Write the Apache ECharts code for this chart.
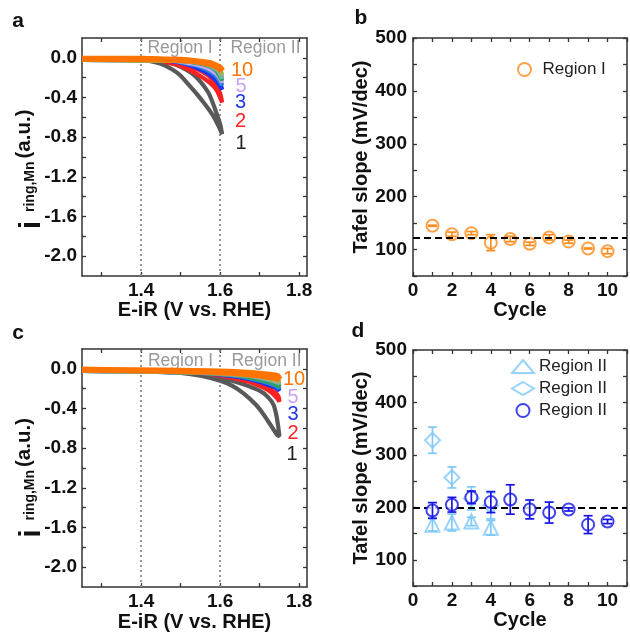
<!DOCTYPE html>
<html><head><meta charset="utf-8">
<script src="https://cdn.jsdelivr.net/npm/echarts@6/dist/echarts.min.js"></script>
<style>html,body{margin:0;padding:0;background:#fff}#c{width:630px;height:633px}</style>
</head><body><div id="c"></div>
<script>
const FONT = "'Liberation Sans', Arial, sans-serif";

// ---------- Panel a : ring current loops (E-iR, i) ----------
const aCycle1 = [[1.25,-0.01],[1.32,-0.01],[1.38,-0.02],[1.42,-0.03],[1.45,-0.06],[1.48,-0.12],[1.50,-0.18],[1.52,-0.27],[1.54,-0.36],[1.56,-0.46],[1.58,-0.57],[1.595,-0.68],[1.605,-0.77],[1.60,-0.67],[1.59,-0.55],[1.58,-0.44],[1.57,-0.35],[1.55,-0.24],[1.53,-0.16],[1.50,-0.09],[1.47,-0.05],[1.43,-0.03],[1.38,-0.02],[1.25,-0.01]];
const aCycle2 = [[1.25,-0.01],[1.40,-0.02],[1.45,-0.03],[1.48,-0.06],[1.51,-0.10],[1.54,-0.16],[1.57,-0.24],[1.59,-0.32],[1.605,-0.45],[1.60,-0.36],[1.59,-0.27],[1.57,-0.18],[1.54,-0.11],[1.50,-0.06],[1.45,-0.03],[1.25,-0.01]];
const aCycle3 = [[1.25,-0.01],[1.42,-0.02],[1.47,-0.03],[1.51,-0.06],[1.54,-0.10],[1.57,-0.16],[1.59,-0.23],[1.605,-0.32],[1.60,-0.26],[1.58,-0.16],[1.55,-0.09],[1.50,-0.04],[1.45,-0.02],[1.25,-0.01]];
const aCycle4 = [[1.25,-0.02],[1.44,-0.02],[1.48,-0.03],[1.52,-0.06],[1.55,-0.09],[1.58,-0.15],[1.595,-0.21],[1.605,-0.28],[1.60,-0.22],[1.58,-0.13],[1.55,-0.07],[1.50,-0.03],[1.25,-0.02]];
const aCycle5 = [[1.25,-0.02],[1.45,-0.02],[1.49,-0.03],[1.53,-0.06],[1.56,-0.09],[1.58,-0.13],[1.595,-0.18],[1.605,-0.25],[1.60,-0.19],[1.58,-0.11],[1.55,-0.06],[1.50,-0.03],[1.25,-0.02]];
const aCycle6 = [[1.25,-0.02],[1.45,-0.02],[1.50,-0.03],[1.54,-0.05],[1.57,-0.08],[1.59,-0.13],[1.605,-0.23],[1.60,-0.17],[1.58,-0.10],[1.55,-0.06],[1.50,-0.03],[1.25,-0.02]];
const aCycle7 = [[1.25,-0.02],[1.46,-0.02],[1.51,-0.03],[1.55,-0.05],[1.575,-0.08],[1.595,-0.13],[1.605,-0.21],[1.60,-0.15],[1.58,-0.09],[1.55,-0.05],[1.50,-0.03],[1.25,-0.02]];
const aCycle8 = [[1.25,-0.02],[1.47,-0.02],[1.52,-0.03],[1.56,-0.05],[1.58,-0.08],[1.595,-0.12],[1.605,-0.19],[1.60,-0.14],[1.58,-0.08],[1.55,-0.05],[1.50,-0.03],[1.25,-0.02]];
const aCycle9 = [[1.25,-0.02],[1.48,-0.02],[1.53,-0.03],[1.565,-0.05],[1.585,-0.08],[1.60,-0.12],[1.605,-0.17],[1.60,-0.13],[1.58,-0.07],[1.55,-0.04],[1.50,-0.03],[1.25,-0.02]];
const aCycle10 = [[1.25,-0.01],[1.40,-0.01],[1.48,-0.02],[1.53,-0.03],[1.56,-0.05],[1.58,-0.07],[1.595,-0.10],[1.605,-0.13],[1.60,-0.10],[1.58,-0.06],[1.55,-0.04],[1.50,-0.02],[1.25,-0.01]];

// ---------- Panel c ----------
const cCycle1 = [[1.25,-0.02],[1.35,-0.02],[1.45,-0.03],[1.50,-0.04],[1.55,-0.07],[1.60,-0.12],[1.63,-0.17],[1.66,-0.25],[1.69,-0.36],[1.71,-0.46],[1.73,-0.58],[1.745,-0.67],[1.75,-0.68],[1.747,-0.58],[1.742,-0.46],[1.735,-0.36],[1.72,-0.28],[1.70,-0.22],[1.67,-0.17],[1.63,-0.12],[1.59,-0.08],[1.54,-0.05],[1.48,-0.03],[1.35,-0.02],[1.25,-0.02]];
const cCycle2 = [[1.25,-0.02],[1.45,-0.02],[1.55,-0.04],[1.60,-0.07],[1.64,-0.10],[1.68,-0.14],[1.71,-0.19],[1.73,-0.24],[1.745,-0.30],[1.75,-0.33],[1.748,-0.28],[1.74,-0.24],[1.72,-0.19],[1.69,-0.15],[1.65,-0.10],[1.60,-0.06],[1.55,-0.04],[1.45,-0.02],[1.25,-0.02]];
const cCycle3 = [[1.25,-0.02],[1.50,-0.03],[1.58,-0.05],[1.64,-0.08],[1.69,-0.12],[1.72,-0.16],[1.74,-0.19],[1.75,-0.22],[1.745,-0.18],[1.72,-0.14],[1.68,-0.10],[1.62,-0.06],[1.55,-0.04],[1.25,-0.02]];
const cCycle4 = [[1.25,-0.02],[1.50,-0.03],[1.58,-0.05],[1.64,-0.07],[1.69,-0.11],[1.72,-0.14],[1.74,-0.17],[1.75,-0.20],[1.745,-0.16],[1.72,-0.12],[1.68,-0.09],[1.62,-0.06],[1.55,-0.04],[1.25,-0.02]];
const cCycle5 = [[1.25,-0.02],[1.50,-0.03],[1.60,-0.05],[1.66,-0.07],[1.70,-0.10],[1.73,-0.13],[1.75,-0.16],[1.745,-0.13],[1.71,-0.10],[1.66,-0.07],[1.58,-0.04],[1.25,-0.02]];
const cCycle6 = [[1.25,-0.02],[1.50,-0.03],[1.59,-0.05],[1.65,-0.07],[1.70,-0.11],[1.73,-0.14],[1.75,-0.18],[1.745,-0.14],[1.71,-0.10],[1.65,-0.06],[1.57,-0.04],[1.25,-0.02]];
const cCycle7 = [[1.25,-0.02],[1.52,-0.03],[1.61,-0.05],[1.67,-0.07],[1.71,-0.10],[1.74,-0.13],[1.75,-0.15],[1.745,-0.12],[1.71,-0.09],[1.65,-0.06],[1.57,-0.04],[1.25,-0.02]];
const cCycle8 = [[1.25,-0.02],[1.53,-0.03],[1.62,-0.05],[1.68,-0.07],[1.72,-0.10],[1.75,-0.14],[1.745,-0.11],[1.70,-0.08],[1.64,-0.05],[1.56,-0.03],[1.25,-0.02]];
const cCycle9 = [[1.25,-0.02],[1.54,-0.03],[1.63,-0.05],[1.69,-0.07],[1.73,-0.10],[1.75,-0.13],[1.745,-0.10],[1.70,-0.07],[1.64,-0.05],[1.56,-0.03],[1.25,-0.02]];
const cCycle10 = [[1.25,-0.01],[1.45,-0.02],[1.55,-0.03],[1.62,-0.04],[1.68,-0.06],[1.72,-0.08],[1.75,-0.10],[1.745,-0.07],[1.70,-0.05],[1.62,-0.03],[1.50,-0.02],[1.25,-0.01]];

const cycleColors = ['#595959','#ff2020','#1f36ee','#2a86dc','#c9a6f2','#2f9f5f','#5fbaa8','#a3a3a3','#9bb84c','#ff7400'];
const cycleLabels = ['1','2','3','4','5','6','7','8','9','10'];
const shownLabels = ['10','5','3','2','1'];

// axis ticks / labels for a, c
const eTicks = [1.3,1.4,1.5,1.6,1.7,1.8];
const eLabels = [1.4,1.6,1.8];
const iTicks = [-2.0,-1.8,-1.6,-1.4,-1.2,-1.0,-0.8,-0.6,-0.4,-0.2,0.0];
const iLabels = [-2.0,-1.6,-1.2,-0.8,-0.4,0.0];
const regionLines = [1.4, 1.6];

// ---------- Panel b ----------
const bCycle = [1,2,3,4,5,6,7,8,9,10];
const bSlope = [145,129,131,113,120,111,123,115,102,97];
const bErr   = [1,4,3,15,5,3,5,3,1,5];
const bMean = 123;

// ---------- Panel d ----------
const dCycle = [1,2,3,4,5,6,7,8,9,10];
const dCircle = [194,205,219,210,215,196,190,196,167,173];
const dCircleErr = [15,14,12,20,28,18,20,3,17,4];
const dTriCycle = [1,2,3,4];
const dTri = [167,171,173,161];
const dTriErr = [12,16,8,14];
const dDiaCycle = [1,2,3,4];
const dDia = [328,257,217,203];
const dDiaErr = [25,20,22,25];
const dMean = 200;

const ORANGE = '#ff8a1c';
const LIGHTBLUE = '#7fc8f8';
const DARKBLUE = '#1414e6';

const TXT = '#111';
const TICKFS = 19;
const lineStyleAx = {color:'#333', width:1.5};

function xAxisE(grid){
  return [
    {gridIndex:grid, type:'value', min:1.25, max:1.82, position:'bottom',
     axisLine:{show:true,onZero:false,lineStyle:lineStyleAx},
     axisTick:{show:true,inside:true,length:4,customValues:eTicks,lineStyle:{color:'#333',width:1.3}},
     axisLabel:{show:true,customValues:eLabels,formatter:v=>v.toFixed(1),fontSize:TICKFS,fontWeight:'bold',color:TXT,fontFamily:FONT,margin:5},
     splitLine:{show:false},
     name:'E-iR (V vs. RHE)', nameLocation:'middle', nameGap:24,
     nameTextStyle:{fontSize:20,fontWeight:'bold',color:TXT,fontFamily:FONT}},
    {gridIndex:grid, type:'value', min:1.25, max:1.82, position:'top',
     axisLine:{show:true,onZero:false,lineStyle:lineStyleAx},
     axisTick:{show:true,inside:true,length:4,customValues:eTicks,lineStyle:{color:'#333',width:1.3}},
     axisLabel:{show:false}, splitLine:{show:false}}
  ];
}
function yAxisI(grid){
  return [
    {gridIndex:grid, type:'value', min:-2.2, max:0.2, position:'left',
     axisLine:{show:true,onZero:false,lineStyle:lineStyleAx},
     axisTick:{show:true,inside:true,length:4,customValues:iTicks,lineStyle:{color:'#333',width:1.3}},
     axisLabel:{show:true,customValues:iLabels,formatter:v=>v.toFixed(1),fontSize:TICKFS,fontWeight:'bold',color:TXT,fontFamily:FONT,margin:5},
     splitLine:{show:false}},
    {gridIndex:grid, type:'value', min:-2.2, max:0.2, position:'right',
     axisLine:{show:true,onZero:false,lineStyle:lineStyleAx},
     axisTick:{show:true,inside:true,length:4,customValues:iTicks,lineStyle:{color:'#333',width:1.3}},
     axisLabel:{show:false}, splitLine:{show:false}}
  ];
}
function xAxisCycle(grid, gap){
  return [
    {gridIndex:grid, type:'value', min:0, max:11, interval:1, position:'bottom',
     axisLine:{show:true,onZero:false,lineStyle:lineStyleAx},
     axisTick:{show:true,inside:true,length:4,lineStyle:{color:'#333',width:1.3}},
     axisLabel:{show:true,formatter:v=>(v%2===0 && v<=10)?String(v):'',fontSize:TICKFS,fontWeight:'bold',color:TXT,fontFamily:FONT,margin:5,showMinLabel:true},
     splitLine:{show:false},
     name:'Cycle', nameLocation:'middle', nameGap:gap,
     nameTextStyle:{fontSize:20,fontWeight:'bold',color:TXT,fontFamily:FONT}},
    {gridIndex:grid, type:'value', min:0, max:11, interval:1, position:'top',
     axisLine:{show:true,onZero:false,lineStyle:lineStyleAx},
     axisTick:{show:true,inside:true,length:4,lineStyle:{color:'#333',width:1.3}},
     axisLabel:{show:false}, splitLine:{show:false}}
  ];
}
function yAxisTafel(grid){
  return [
    {gridIndex:grid, type:'value', min:50, max:500, interval:50, position:'left',
     axisLine:{show:true,onZero:false,lineStyle:lineStyleAx},
     axisTick:{show:true,inside:true,length:4,lineStyle:{color:'#333',width:1.3}},
     axisLabel:{show:true,formatter:v=>(v%100===0)?String(v):'',fontSize:TICKFS,fontWeight:'bold',color:TXT,fontFamily:FONT,margin:6},
     splitLine:{show:false},
     name:'Tafel slope (mV/dec)', nameLocation:'middle', nameGap:40,
     nameTextStyle:{fontSize:20,fontWeight:'bold',color:TXT,fontFamily:FONT}},
    {gridIndex:grid, type:'value', min:50, max:500, interval:50, position:'right',
     axisLine:{show:true,onZero:false,lineStyle:lineStyleAx},
     axisTick:{show:true,inside:true,length:4,lineStyle:{color:'#333',width:1.3}},
     axisLabel:{show:false}, splitLine:{show:false}}
  ];
}

function curveSeries(curves, xi, yi){
  return curves.map((d,i)=>{
    const s = {type:'line', name:'cycle '+cycleLabels[i], xAxisIndex:xi, yAxisIndex:yi, data:d,
      symbol:'none', showSymbol:false, smooth:0.25, silent:true, z:2+i,
      lineStyle:{color:cycleColors[i], width:i===9?6:4.2}};
    if(i===0){
      s.markLine = {silent:true, symbol:'none', label:{show:false}, z:1,
        lineStyle:{color:'#8a8a8a', type:[2,3], width:1.8},
        data: regionLines.map(v=>({xAxis:v}))};
    }
    return s;
  });
}

function errSeries(xi, yi, xs, ys, es, color, z){
  return {type:'custom', coordinateSystem:'cartesian2d', xAxisIndex:xi, yAxisIndex:yi, silent:true, z:z,
    data: xs.map((x,k)=>[x, ys[k]-es[k], ys[k]+es[k]]),
    encode:{x:0, y:[1,2]},
    renderItem:(p, api)=>{
      const x = api.value(0);
      const a = api.coord([x, api.value(1)]);
      const b = api.coord([x, api.value(2)]);
      const w = 4.5;
      const st = {stroke:color, lineWidth:1.7};
      return {type:'group', children:[
        {type:'line', shape:{x1:a[0],y1:a[1],x2:b[0],y2:b[1]}, style:st},
        {type:'line', shape:{x1:a[0]-w,y1:a[1],x2:a[0]+w,y2:a[1]}, style:st},
        {type:'line', shape:{x1:b[0]-w,y1:b[1],x2:b[0]+w,y2:b[1]}, style:st}
      ]};
    }};
}

function meanLine(v){
  return {silent:true, symbol:'none', label:{show:false},
    lineStyle:{color:'#000', type:[7,4], width:2}, data:[{yAxis:v}]};
}

const aCurves = [aCycle1,aCycle2,aCycle3,aCycle4,aCycle5,aCycle6,aCycle7,aCycle8,aCycle9,aCycle10];
const cCurves = [cCycle1,cCycle2,cCycle3,cCycle4,cCycle5,cCycle6,cCycle7,cCycle8,cCycle9,cCycle10];

const series = [].concat(
  curveSeries(aCurves, 0, 0),
  curveSeries(cCurves, 4, 4),
  [
    {type:'scatter', name:'Region I', xAxisIndex:2, yAxisIndex:2, data:bCycle.map((x,k)=>[x,bSlope[k]]),
     symbol:'emptyCircle', symbolSize:12, z:3, itemStyle:{color:ORANGE, borderColor:ORANGE, borderWidth:2.4},
     markLine: meanLine(bMean)},
    errSeries(2, 2, bCycle, bSlope, bErr, ORANGE, 4),
    {type:'scatter', name:'R2tri', xAxisIndex:6, yAxisIndex:6, data:dTriCycle.map((x,k)=>[x,dTri[k]]),
     symbol:'emptyTriangle', symbolSize:14, z:3, itemStyle:{color:LIGHTBLUE, borderColor:LIGHTBLUE, borderWidth:2.2}},
    errSeries(6, 6, dTriCycle, dTri, dTriErr, LIGHTBLUE, 4),
    {type:'scatter', name:'R2dia', xAxisIndex:6, yAxisIndex:6, data:dDiaCycle.map((x,k)=>[x,dDia[k]]),
     symbol:'emptyDiamond', symbolSize:15, z:3, itemStyle:{color:LIGHTBLUE, borderColor:LIGHTBLUE, borderWidth:2.2}},
    errSeries(6, 6, dDiaCycle, dDia, dDiaErr, LIGHTBLUE, 4),
    {type:'scatter', name:'R2cir', xAxisIndex:6, yAxisIndex:6, data:dCycle.map((x,k)=>[x,dCircle[k]]),
     symbol:'emptyCircle', symbolSize:12, z:5, itemStyle:{color:DARKBLUE, borderColor:DARKBLUE, borderWidth:2.4},
     markLine: meanLine(dMean)},
    errSeries(6, 6, dCycle, dCircle, dCircleErr, DARKBLUE, 6)
  ]
);

// text annotations
function panelLetter(t, x, y){
  return {type:'text', x:x, y:y, style:{text:t, fill:'#111', font:'bold 21px '+FONT, align:'center', verticalAlign:'middle'}};
}
function regionText(t, x, y){
  return {type:'text', x:x, y:y, style:{text:t, fill:'#9a9a9a', font:'17.5px '+FONT, align:'center', verticalAlign:'middle'}};
}
const aLabelPos = {'10':[242,70], '5':[241,86], '3':[240.5,102], '2':[240.5,121], '1':[241,143]};
const cLabelPos = {'10':[294,379], '5':[293,397], '3':[293,414], '2':[293,433], '1':[292,454]};
function cycleText(pos){
  return shownLabels.map(l=>({type:'text', x:pos[l][0], y:pos[l][1],
    style:{text:l, fill: l==='1' ? '#222' : cycleColors[cycleLabels.indexOf(l)], font:'20px '+FONT, align:'center', verticalAlign:'middle'}}));
}
function iTitle(x, y){
  return {type:'group', x:x, y:y, rotation:Math.PI/2, children:[
    {type:'text', x:-58, y:9, style:{text:'i', font:'bold 29px '+FONT, fill:'#111', align:'left', verticalAlign:'middle'}},
    {type:'text', x:-41, y:7.5, style:{text:'ring,Mn', font:'bold 14px '+FONT, fill:'#111', align:'left', verticalAlign:'middle'}},
    {type:'text', x:12.5, y:1.5, style:{text:'(a.u.)', font:'bold 20.5px '+FONT, fill:'#111', align:'left', verticalAlign:'middle'}}
  ]};
}

const graphic = [
  panelLetter('a', 18, 21), panelLetter('b', 361, 18), panelLetter('c', 18, 333), panelLetter('d', 358, 331),
  regionText('Region I', 180, 48), regionText('Region II', 265.5, 48),
  regionText('Region I', 180.5, 361), regionText('Region II', 266.5, 361),
  iTitle(23, 171), iTitle(23, 479.5)
].concat(cycleText(aLabelPos), cycleText(cLabelPos));

const legTxt = {fontSize:17, color:'#222', fontFamily:FONT};
const option = {
  animation:false,
  backgroundColor:'#fff',
  textStyle:{fontFamily:FONT},
  grid:[
    {left:82, top:38, width:225, height:238},
    {left:413, top:38, width:224, height:238},
    {left:82, top:349, width:225, height:239},
    {left:413, top:350, width:224, height:236}
  ],
  xAxis:[].concat(xAxisE(0), xAxisCycle(1, 21), xAxisE(2), xAxisCycle(3, 23)),
  yAxis:[].concat(yAxisI(0), yAxisTafel(1), yAxisI(2), yAxisTafel(3)),
  legend:[
    {data:['Region I'], left:512, top:56, orient:'vertical', itemWidth:26, itemHeight:13, selectedMode:false, textStyle:legTxt},
    {data:['R2tri','R2dia','R2cir'], formatter:()=>'Region II', left:506, top:353, orient:'vertical', itemGap:5, itemWidth:22, itemHeight:13, selectedMode:false, textStyle:legTxt}
  ],
  graphic: graphic,
  series: series
};
const chart = echarts.init(document.getElementById('c'), null, {renderer:'canvas'});
chart.setOption(option);
</script>
</body></html>
